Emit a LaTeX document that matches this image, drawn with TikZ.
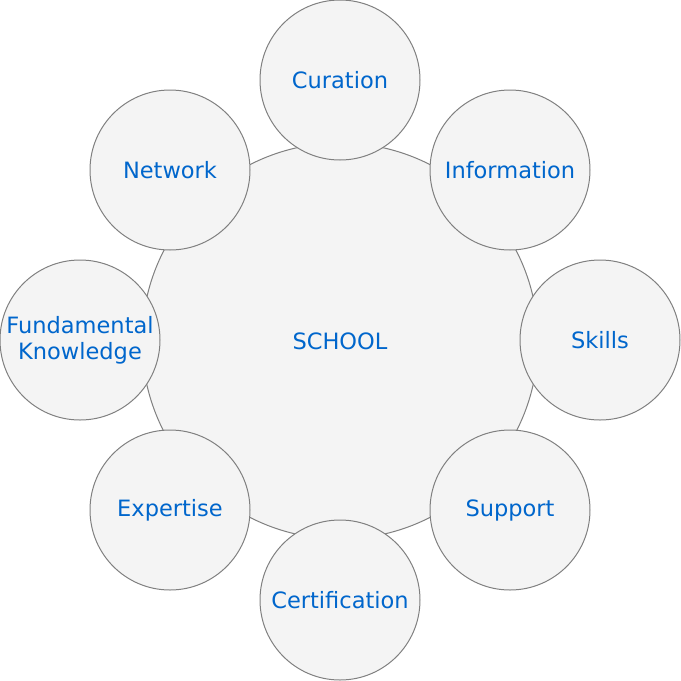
\documentclass[tikz,border=0pt]{standalone}
\usepackage{fontspec}
\setmainfont{DejaVu Sans}
\usetikzlibrary{positioning}
\definecolor{softfill}{RGB}{244,244,244}
\definecolor{edgegrey}{RGB}{128,128,128}
\definecolor{labelblue}{RGB}{0,102,204}

\begin{document}
\begin{tikzpicture}[x=1pt,y=-1pt,
    hub/.style={circle,draw=edgegrey,fill=softfill,line width=1pt,inner sep=0pt,
      minimum size=396pt,text=labelblue,font=\fontsize{22.5}{26}\selectfont},
    topic/.style={circle,draw=edgegrey,fill=softfill,line width=1pt,inner sep=0pt,
      minimum size=160pt,text=labelblue,align=center,font=\fontsize{22.5}{26}\selectfont}]
     \useasboundingbox (0,0) rectangle (681,681);
     \node[hub] (school) at (340,341) {SCHOOL};
     \node[topic] (curation) at (340,80) {Curation};
     \node[topic] (information) at (510,170) {Information};
     \node[topic] (skills) at (600,340) {Skills};
     \node[topic] (support) at (510,510) {Support};
     \node[topic] (certification) at (340,600) {Certification};
     \node[topic] (expertise) at (170,510) {Expertise};
     \node[topic] (fundamental) at (80,340) {Fundamental\\Knowledge};
     \node[topic] (network) at (170,170) {Network};
   \end{tikzpicture}
\end{document}
